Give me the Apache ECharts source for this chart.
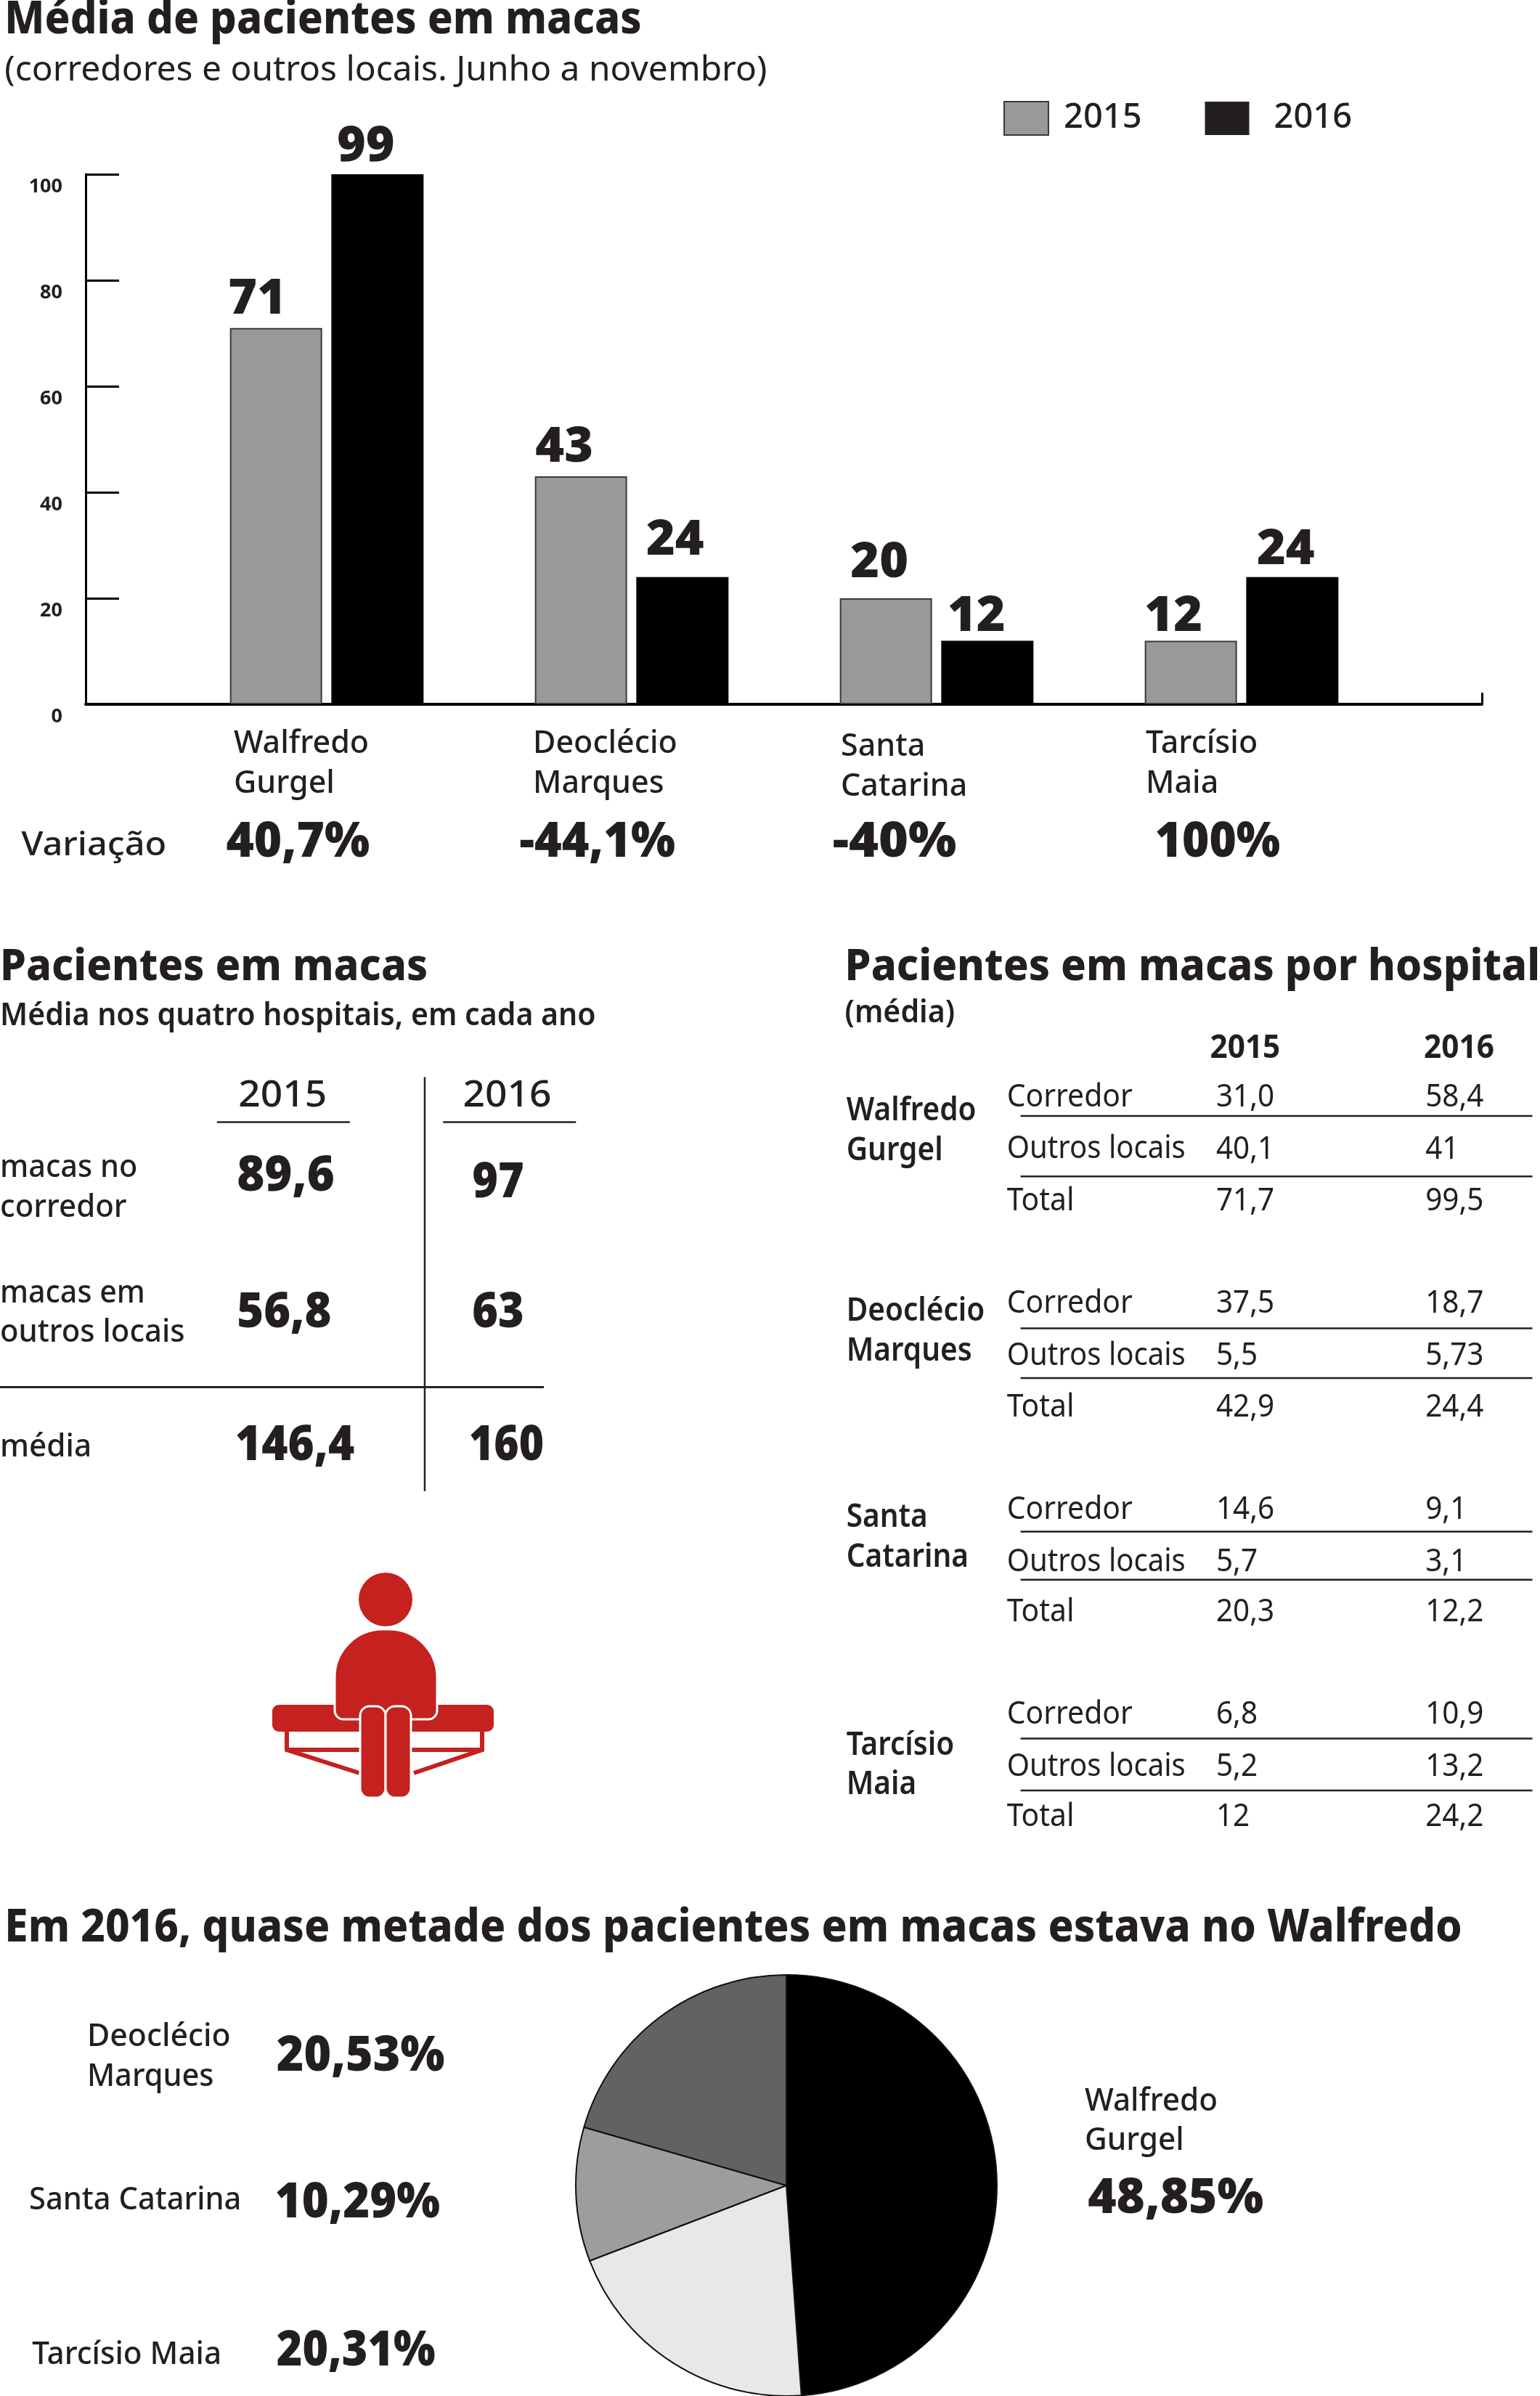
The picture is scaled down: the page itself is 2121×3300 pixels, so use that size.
<!DOCTYPE html>
<html><head><meta charset="utf-8">
<style>html,body{margin:0;padding:0;background:#fff}#c{width:2121px;height:3300px}</style>
<script src="https://cdn.jsdelivr.net/npm/echarts@6/dist/echarts.min.js"></script>
</head><body><div id="c"></div>
<script>
// ---------- data ----------
const categories = ['Walfredo\nGurgel','Deoclécio\nMarques','Santa\nCatarina','Tarcísio\nMaia'];
const years = ['2015','2016'];
const values2015 = [71,43,20,12];
const values2016 = [100,24,12,24];
const labels2015 = ['71','43','20','12'];
const labels2016 = ['99','24','12','24'];
const variation = ['40,7%','-44,1%','-40%','100%'];
const avgRows = [['macas no','corredor'],['macas em','outros locais'],['média']];
const avg2015 = ['89,6','56,8','146,4'];
const avg2016 = ['97','63','160'];
const hospitals = [['Walfredo','Gurgel'],['Deoclécio','Marques'],['Santa','Catarina'],['Tarcísio','Maia']];
const rowNames = ['Corredor','Outros locais','Total'];
const hosp2015 = [['31,0','40,1','71,7'],['37,5','5,5','42,9'],['14,6','5,7','20,3'],['6,8','5,2','12']];
const hosp2016 = [['58,4','41','99,5'],['18,7','5,73','24,4'],['9,1','3,1','12,2'],['10,9','13,2','24,2']];
const pieNames = ['Walfredo Gurgel','Tarcísio Maia','Santa Catarina','Deoclécio Marques'];
const pieValues = [48.85,20.31,10.29,20.53];
const pieLabels = ['48,85%','20,31%','10,29%','20,53%'];

// ---------- layout ----------
const S = 2121/1008, INK = '#231f20', FONT = '"Noto Sans"', YSHIFT = 3;
const ctx = document.createElement('canvas').getContext('2d');
const els = [];
// x, y, w in reference-view units (scaled by S); w > 1 is a target width, w <= 1 a direct horizontal scale
function T(text, x, y, size, weight, w, fill){
  let sx = 1;
  if (w && w <= 1) sx = w;
  else if (w){ ctx.font = `${weight} ${size}px ${FONT}`; sx = w*S/ctx.measureText(text).width; }
  els.push({type:'text', x:x*S, y:y*S+YSHIFT+(size>=66?2:0), scaleX:sx, silent:true,
    style:{text, font:`${weight} ${size}px ${FONT}`, fill:fill||INK, textAlign:'left', textVerticalAlign:'middle'}});
}
function L(x1,y1,x2,y2,w){
  els.push({type:'line', silent:true, shape:{x1:x1*S,y1:y1*S,x2:x2*S,y2:y2*S}, style:{stroke:INK,lineWidth:w||2.5}});
}
// headings
T('Média de pacientes em macas',3,12,62,800,417);
T('(corredores e outros locais. Junho a novembro)',3,45,47,400,499);
T('Variação',14,552,46,500,95);
[[148,94],[340,102],[545,81],[756,82]].forEach((p,i)=>T(variation[i],p[0],549,68,900,p[1]));

// average table
T('Pacientes em macas',0,632,60,800,280);
T('Média nos quatro hospitais, em cada ano',0,664,43,600,390);
T(years[0],156,716,50,500,58); T(years[1],303,716,50,500,58);
L(142,734.5,229,734.5); L(290,734.5,377,734.5); L(278,705,278,976); L(0,908,356,908,3);
T(avgRows[0][0],0,763,44,500,90); T(avgRows[0][1],0,789,44,500,83);
T(avgRows[1][0],0,845,44,500,95); T(avgRows[1][1],0,871,44,500,121);
T(avgRows[2][0],0,946,44,500,60);
[[155,768,64],[155,857,62],[154,944,78]].forEach((p,i)=>T(avg2015[i],p[0],p[1],68,900,p[2]));
[[309,772,34],[309,857,34],[307,944,49]].forEach((p,i)=>T(avg2016[i],p[0],p[1],68,900,p[2]));

// hospital table
T('Pacientes em macas por hospital',553,632,60,800,455);
T('(média)',553,662,43,600,72);
T(years[0],792,685,44,700,46); T(years[1],932,685,44,700,46);
const nameY = [[726,752],[857,883],[992,1018],[1141,1167]];
const rowY = [[717,751,785],[852,886,920],[987,1021,1054],[1121,1155,1188]];
const ruleY = [[730.5,770],[869.5,902],[1002.5,1034],[1138,1172]];
hospitals.forEach((h,i)=>{
  T(h[0],554,nameY[i][0],45,600,0.9); T(h[1],554,nameY[i][1],45,600,0.9);
  rowNames.forEach((r,j)=>{
    T(r,659,rowY[i][j],43,400, r==='Outros locais'?117:0.95);
    T(hosp2015[i][j],796,rowY[i][j],44,400,0.92);
    T(hosp2016[i][j],933,rowY[i][j],44,400,0.92);
  });
  L(668,ruleY[i][0],1003,ruleY[i][0]); L(668,ruleY[i][1],1003,ruleY[i][1]);
});

// share section
T('Em 2016, quase metade dos pacientes em macas estava no Walfredo',3,1261,62,800,954);
T('Deoclécio',57,1332,44,500,94); T('Marques',57,1358,44,500,83);
T('Santa Catarina',19,1439,44,500,139); T('Tarcísio Maia',21,1540,44,500,124);
T('Walfredo',710,1374,44,500,87); T('Gurgel',710,1400,44,500,65);
T(pieLabels[3],181,1344,68,900,110); T(pieLabels[2],180,1440,68,900,108);
T(pieLabels[1],181,1537,68,900,104); T(pieLabels[0],712,1437,68,900,115);

// stretcher icon
const RED = '#c4211f';
const icon = [
 {type:'rect',shape:{x:375,y:2348,width:305,height:37,r:9},style:{fill:RED}},
 {type:'polyline',shape:{points:[[395,2384],[395,2410],[495,2442]]},style:{fill:null,stroke:RED,lineWidth:6}},
 {type:'polyline',shape:{points:[[664,2384],[664,2410],[570,2442]]},style:{fill:null,stroke:RED,lineWidth:6}},
 {type:'line',shape:{x1:395,y1:2410,x2:664,y2:2410},style:{stroke:RED,lineWidth:6}},
 {type:'rect',shape:{x:461,y:2244,width:141,height:124,r:[66,66,12,12]},style:{fill:RED,stroke:'#fff',lineWidth:3}},
 {type:'rect',shape:{x:496,y:2350,width:35,height:126,r:13},style:{fill:RED,stroke:'#fff',lineWidth:3}},
 {type:'rect',shape:{x:531,y:2350,width:35,height:126,r:13},style:{fill:RED,stroke:'#fff',lineWidth:3}},
 {type:'circle',shape:{cx:531,cy:2203,r:37},style:{fill:RED}}
];
icon.forEach(e=>{e.silent=true;els.push(e);});

// ---------- chart ----------
const barDx15=[-26,-23,-9,-24], barDy15=[-5,-5,-14,1];
const barDx16=[-16,-10,-15,-9], barDy16=[-3,-16,1,-3];
const catPad=[[0,0,0,8],[0,0,0,0],[4,0,0,4],[0,0,0,4]];
const mk=(v,l,dx,dy)=>v.map((x,i)=>({value:x,label:{formatter:l[i],offset:[dx[i],dy[i]]}}));
const barLabel={show:true,position:'top',distance:0,color:INK,fontFamily:FONT,fontWeight:900,fontSize:68};
const H=730, TOP=240;
const chart=echarts.init(document.getElementById('c'),null,{width:2121,height:3300});
chart.setOption({
  animation:false, backgroundColor:'#fff', textStyle:{fontFamily:FONT},
  grid:[
    {left:118,top:TOP,width:1923,height:H},
    {left:240,top:TOP,width:1680,height:H},
    {left:104,top:TOP,width:1680,height:H}
  ],
  legend:{show:true,left:1377,top:134,itemWidth:61,itemHeight:46,itemGap:87,selectedMode:false,icon:'rect',
    textStyle:{fontSize:47,color:INK,fontFamily:FONT,fontWeight:500},
    data:[{name:years[0],icon:'rect',itemStyle:{color:'#999999',borderColor:'#3a3a3a',borderWidth:2},textStyle:{padding:[16,0,0,16]}},
          {name:years[1],icon:'rect',itemStyle:{color:INK,borderWidth:0},textStyle:{padding:[16,0,0,29]}}]},
  xAxis:[
    {type:'value',gridIndex:0,min:0,max:1,interval:1,splitLine:{show:false},axisLabel:{show:false},
     axisLine:{show:true,lineStyle:{color:'#000',width:4}},
     axisTick:{show:true,inside:true,length:16,lineStyle:{color:'#000',width:3}}},
    {type:'category',gridIndex:1,data:categories,axisLine:{show:false},axisTick:{show:false},axisLabel:{show:false}},
    {type:'category',gridIndex:2,data:categories.map((c,i)=>({value:c,textStyle:{align:'left',verticalAlign:'top',padding:catPad[i]}})),
     axisLine:{show:false},axisTick:{show:false},
     axisLabel:{show:true,align:'left',verticalAlign:'top',margin:27,fontSize:43,lineHeight:55,color:INK,fontFamily:FONT,fontWeight:500,interval:0}}
  ],
  yAxis:[
    {type:'value',gridIndex:0,min:0,max:100,interval:20,splitLine:{show:false},
     axisLine:{show:true,lineStyle:{color:'#000',width:3}},
     axisTick:{show:true,inside:true,length:46,lineStyle:{color:'#000',width:3}},
     axisLabel:{show:true,margin:32,fontSize:27,fontWeight:700,color:INK,fontFamily:FONT,verticalAlign:'top',padding:[4,0,0,0],showMinLabel:true,showMaxLabel:true}},
    {type:'value',gridIndex:1,min:0,max:100,show:false},
    {type:'value',gridIndex:2,min:0,max:100,show:false}
  ],
  series:[
    {name:years[0],type:'bar',xAxisIndex:1,yAxisIndex:1,barWidth:127,barGap:'10%',z:3,
     itemStyle:{color:'#999999',borderColor:'#3a3a3a',borderWidth:2},
     label:barLabel,data:mk(values2015,labels2015,barDx15,barDy15)},
    {name:years[1],type:'bar',xAxisIndex:1,yAxisIndex:1,barWidth:127,z:3,
     itemStyle:{color:'#000'},
     label:barLabel,data:mk(values2016,labels2016,barDx16,barDy16)},
    {name:'share',type:'pie',center:[1083,3010],radius:[0,290],startAngle:90,clockwise:true,silent:true,
     label:{show:false},labelLine:{show:false},
     itemStyle:{borderColor:'#111',borderWidth:2},
     color:['#000000','#e8e8e8','#9d9d9d','#626262'],
     data:pieNames.map((n,i)=>({name:n,value:pieValues[i]}))}
  ],
  graphic:{elements:els}
});
</script></body></html>
